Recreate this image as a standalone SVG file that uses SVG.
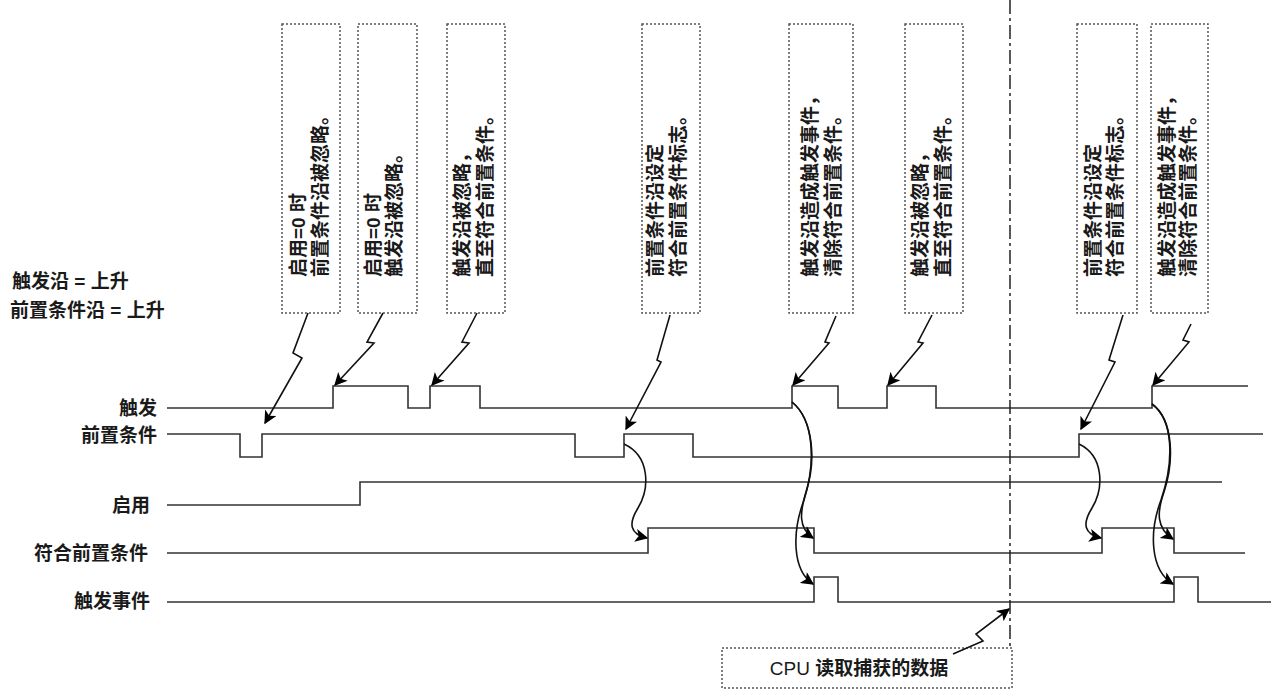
<svg xmlns="http://www.w3.org/2000/svg" width="1277" height="692" viewBox="0 0 1277 692">
<style>
text{font-family:"Liberation Sans","Noto Sans CJK SC",sans-serif;font-size:19px;font-weight:700;fill:#1a1a1a}
.nw{font-weight:400}
.note{fill:none;stroke:#555;stroke-width:1.5;stroke-dasharray:2,2}
.wave{fill:none;stroke:#333;stroke-width:1.6}
.vt{dominant-baseline:central}
.lbl{text-anchor:end;dominant-baseline:central}
.conn{fill:none;stroke:#111;stroke-width:1.6}
.arr{marker-end:url(#ah)}
</style>
<defs>
<marker id="ah" viewBox="0 0 10 10" refX="9" refY="5" markerUnits="userSpaceOnUse" markerWidth="15" markerHeight="13" orient="auto">
<path d="M0,0 L10,5 L0,10 L2.5,5 z" fill="#000"/>
</marker>
</defs>
<rect width="1277" height="692" fill="#fff"/>

<g id="legend">
<text x="12" y="281" class="vt">触发沿 = 上升</text>
<text x="10" y="310" class="vt">前置条件沿 = 上升</text>
</g>

<g id="note1"><rect class="note" x="282" y="24" width="58" height="289"/>
<text class="vt" transform="translate(298,277) rotate(-90)">启用=0 时</text>
<text class="vt" transform="translate(320,277) rotate(-90)">前置条件沿被忽略。</text></g>
<g id="note2"><rect class="note" x="358" y="24" width="59" height="289"/>
<text class="vt" transform="translate(373,277) rotate(-90)">启用=0 时</text>
<text class="vt" transform="translate(394,277) rotate(-90)">触发沿被忽略。</text></g>
<g id="note3"><rect class="note" x="447" y="24" width="58" height="289"/>
<text class="vt" transform="translate(462,277) rotate(-90)">触发沿被忽略，</text>
<text class="vt" transform="translate(485,277) rotate(-90)">直至符合前置条件。</text></g>
<g id="note4"><rect class="note" x="642" y="24" width="58" height="289"/>
<text class="vt" transform="translate(655,277) rotate(-90)">前置条件沿设定</text>
<text class="vt" transform="translate(678,277) rotate(-90)">符合前置条件标志。</text></g>
<g id="note5"><rect class="note" x="789" y="24" width="64" height="289"/>
<text class="vt" transform="translate(810,277) rotate(-90)">触发沿造成触发事件，</text>
<text class="vt" transform="translate(833,277) rotate(-90)">清除符合前置条件。</text></g>
<g id="note6"><rect class="note" x="905" y="24" width="58" height="289"/>
<text class="vt" transform="translate(920,277) rotate(-90)">触发沿被忽略，</text>
<text class="vt" transform="translate(943,277) rotate(-90)">直至符合前置条件。</text></g>
<g id="note7"><rect class="note" x="1077" y="24" width="60" height="289"/>
<text class="vt" transform="translate(1093,277) rotate(-90)">前置条件沿设定</text>
<text class="vt" transform="translate(1115,277) rotate(-90)">符合前置条件标志。</text></g>
<g id="note8"><rect class="note" x="1151" y="24" width="57" height="289"/>
<text class="vt" transform="translate(1167,277) rotate(-90)">触发沿造成触发事件，</text>
<text class="vt" transform="translate(1188,277) rotate(-90)">清除符合前置条件。</text></g>
<g id="note9"><rect class="note" x="722" y="648" width="290" height="40"/>
<text x="859" y="668" class="vt" text-anchor="middle"><tspan class="nw">CPU</tspan> 读取捕获的数据</text></g>

<g id="sig-trigger"><text x="157" y="408" class="lbl">触发</text>
<path class="wave" d="M167,408 H333 V386 H408 V408 H430 V386 H480 V408 H792 V386 H838 V408 H887 V386 H936 V408 H1152 V386 H1248"/></g>
<g id="sig-precond"><text x="157" y="435" class="lbl">前置条件</text>
<path class="wave" d="M167,434 H240 V457 H262 V434 H575 V457 H624 V434 H693 V457 H1079 V434 H1263"/></g>
<g id="sig-enable"><text x="150" y="505" class="lbl">启用</text>
<path class="wave" d="M167,505 H360 V482 H1222"/></g>
<g id="sig-match"><text x="148" y="553" class="lbl">符合前置条件</text>
<path class="wave" d="M167,553 H648 V528 H814 V553 H1102 V528 H1174 V553 H1245"/></g>
<g id="sig-event"><text x="150" y="601" class="lbl">触发事件</text>
<path class="wave" d="M167,602 H814 V577 H838 V602 H1174 V577 H1198 V602 H1271"/></g>

<g id="cpu-read-line"><line x1="1010" y1="0" x2="1010" y2="648" stroke="#222" stroke-width="1.5" stroke-dasharray="14,4,3,4"/></g>

<g id="connectors">
<path class="conn arr" d="M308,313 L293,353 L302,358 L265,423"/>
<path class="conn arr" d="M383,313 L367,342 L374,343 L335,385"/>
<path class="conn arr" d="M477,313 L462,342 L469,343 L432,385"/>
<path class="conn arr" d="M670,315 L657,360 L661,362 L626,429"/>
<path class="conn arr" d="M836,316 L825,342 L829,343 L793,385"/>
<path class="conn arr" d="M932,315 L918,342 L923,343 L888,385"/>
<path class="conn arr" d="M1123,315 L1109,360 L1115,362 L1081,429"/>
<path class="conn arr" d="M1191,324 L1183,340 L1189,342 L1153,385"/>
<path class="conn arr" d="M953,654 L983,641 L976,634 L1009,609"/>
<path class="conn arr" d="M624,444 C650,456 650,488 638,508 C628,524 630,534 647,538"/>
<path class="conn arr" d="M792,402 C814,420 816,462 806,492 C800,512 798,528 813,538"/>
<path class="conn arr" d="M792,402 C814,420 816,462 804,500 C792,532 792,570 813,584"/>
<path class="conn arr" d="M1079,444 C1104,456 1104,488 1092,508 C1082,524 1084,534 1101,538"/>
<path class="conn arr" d="M1152,404 C1174,420 1174,462 1164,492 C1157,512 1156,528 1173,539"/>
<path class="conn arr" d="M1152,404 C1174,420 1174,462 1161,500 C1149,532 1150,570 1173,584"/>
</g>
</svg>
